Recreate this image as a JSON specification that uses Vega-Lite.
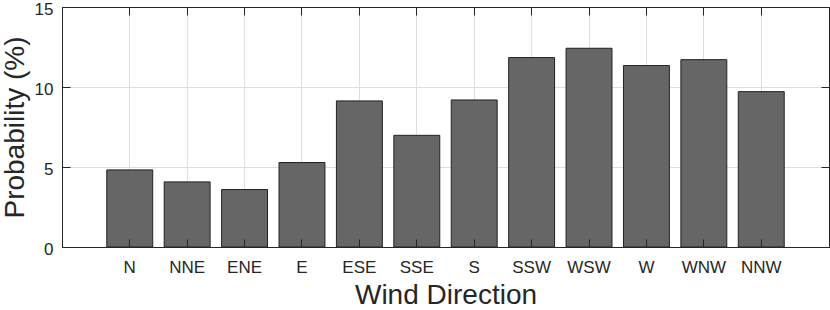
{
  "$schema": "https://vega.github.io/schema/vega-lite/v6.json",
  "width": 767,
  "height": 240,
  "autosize": {"type": "none"},
  "padding": {"left": 62, "top": 7, "right": 1, "bottom": 63},
  "background": "white",
  "config": {
    "font": "Liberation Sans",
    "view": {"stroke": "#262626", "strokeWidth": 1},
    "axis": {
      "labelFont": "Liberation Sans",
      "titleFont": "Liberation Sans",
      "labelColor": "#262626",
      "titleColor": "#262626",
      "domainColor": "#262626",
      "tickColor": "#262626",
      "gridColor": "#dedede",
      "gridWidth": 1,
      "labelFontSize": 17,
      "titleFontSize": 28,
      "titleFontWeight": "normal"
    }
  },
  "data": {
    "values": [
      {"dir": "N", "p": 4.82},
      {"dir": "NNE", "p": 4.07},
      {"dir": "ENE", "p": 3.59},
      {"dir": "E", "p": 5.28},
      {"dir": "ESE", "p": 9.13},
      {"dir": "SSE", "p": 6.98},
      {"dir": "S", "p": 9.19},
      {"dir": "SSW", "p": 11.84},
      {"dir": "WSW", "p": 12.42},
      {"dir": "W", "p": 11.34},
      {"dir": "WNW", "p": 11.71},
      {"dir": "NNW", "p": 9.71}
    ]
  },
  "resolve": {"axis": {"x": "independent", "y": "independent"}},
  "layer": [
    {
      "mark": {"type": "bar", "opacity": 0},
      "encoding": {
        "x": {
          "field": "dir", "type": "nominal", "sort": null,
          "scale": {"paddingInner": 0.2, "paddingOuter": 0.78},
          "axis": {"orient": "top", "labels": false, "title": null, "grid": true, "tickSize": -8, "domain": true, "zindex": 0}
        },
        "y": {
          "field": "p", "type": "quantitative",
          "scale": {"domain": [0, 15], "nice": false},
          "axis": {"orient": "right", "labels": false, "title": null, "grid": true, "values": [0, 5, 10, 15], "tickSize": -8, "zindex": 0}
        }
      }
    },
    {
      "mark": {"type": "bar", "color": "#666666", "stroke": "#222222", "strokeWidth": 1},
      "encoding": {
        "x": {
          "field": "dir", "type": "nominal", "sort": null,
          "scale": {"paddingInner": 0.2, "paddingOuter": 0.78},
          "axis": {"orient": "bottom", "title": "Wind Direction", "grid": false, "labelAngle": 0, "tickSize": -8, "labelPadding": 20, "titlePadding": 6, "zindex": 1}
        },
        "y": {
          "field": "p", "type": "quantitative",
          "scale": {"domain": [0, 15], "nice": false},
          "axis": {"orient": "left", "title": "Probability (%)", "grid": false, "values": [0, 5, 10, 15], "tickSize": -8, "labelPadding": 17, "labelOffset": 2, "titlePadding": 5, "zindex": 1}
        }
      }
    }
  ]
}
